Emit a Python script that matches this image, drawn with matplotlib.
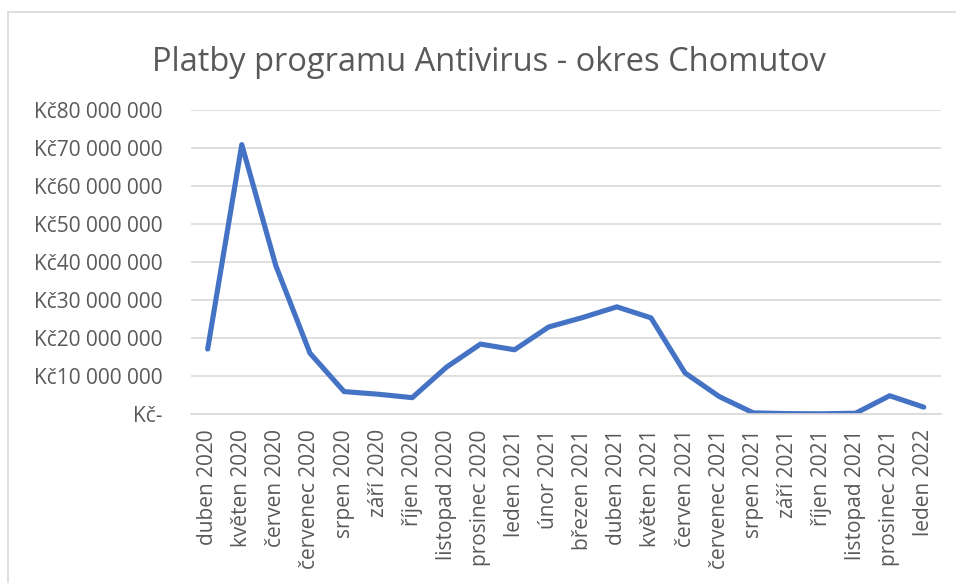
import matplotlib.pyplot as plt
from matplotlib.lines import Line2D

# data
mesice = ['duben 2020', 'květen 2020', 'červen 2020', 'červenec 2020', 'srpen 2020',
          'září 2020', 'říjen 2020', 'listopad 2020', 'prosinec 2020', 'leden 2021',
          'únor 2021', 'březen 2021', 'duben 2021', 'květen 2021', 'červen 2021',
          'červenec 2021', 'srpen 2021', 'září 2021', 'říjen 2021', 'listopad 2021',
          'prosinec 2021', 'leden 2022']
platby_mil = [17.1, 70.9, 39.0, 16.0, 5.9, 5.2, 4.3, 12.3, 18.4, 16.9, 22.9,
              25.4, 28.2, 25.3, 10.8, 4.6, 0.3, 0.1, 0.05, 0.2, 4.8, 1.8]
y_ticky = [0, 10, 20, 30, 40, 50, 60, 70, 80]
y_popisky = ['Kč-', 'Kč10 000 000', 'Kč20 000 000', 'Kč30 000 000', 'Kč40 000 000',
             'Kč50 000 000', 'Kč60 000 000', 'Kč70 000 000', 'Kč80 000 000']

plt.rcParams['font.family'] = ['Open Sans', 'DejaVu Sans']
seda = '#595959'

fig = plt.figure(figsize=(9.56, 5.83), dpi=100)
ax = fig.add_axes([0.1994, 0.2899, 0.7847, 0.5214])

x = list(range(len(mesice)))
ax.plot(x, [v * 1e6 for v in platby_mil], color='#4472C4', linewidth=3.7,
        solid_joinstyle='round', solid_capstyle='round')

ax.set_xlim(-0.5, len(mesice) - 0.5)
ax.set_ylim(0, 80e6)
ax.set_yticks([t * 1e6 for t in y_ticky])
ax.set_yticklabels(y_popisky)
ax.set_xticks(x)
ax.set_xticklabels(mesice, rotation=90)
ax.tick_params(axis='y', length=0, pad=20, labelsize=15, labelcolor=seda)
ax.tick_params(axis='x', length=0, pad=11, labelsize=15, labelcolor=seda)

ax.grid(axis='y', color='#D9D9D9', linewidth=1.2)
ax.set_axisbelow(True)
for s in ['top', 'right', 'left']:
    ax.spines[s].set_visible(False)
ax.spines['bottom'].set_color('#D9D9D9')
ax.spines['bottom'].set_linewidth(1.2)

fig.text(0.511, 0.893, 'Platby programu Antivirus - okres Chomutov',
         ha='center', va='center', fontsize=23.5, color=seda)

# ramecek grafu (jen levy a horni okraj je videt)
fig.add_artist(Line2D([8 / 956, 8 / 956], [0, 1 - 12 / 583], transform=fig.transFigure,
                      color='#D9D9D9', linewidth=1.2))
fig.add_artist(Line2D([8 / 956, 1], [1 - 12 / 583, 1 - 12 / 583], transform=fig.transFigure,
                      color='#D9D9D9', linewidth=1.2))

fig.savefig('out.png', dpi=100)
